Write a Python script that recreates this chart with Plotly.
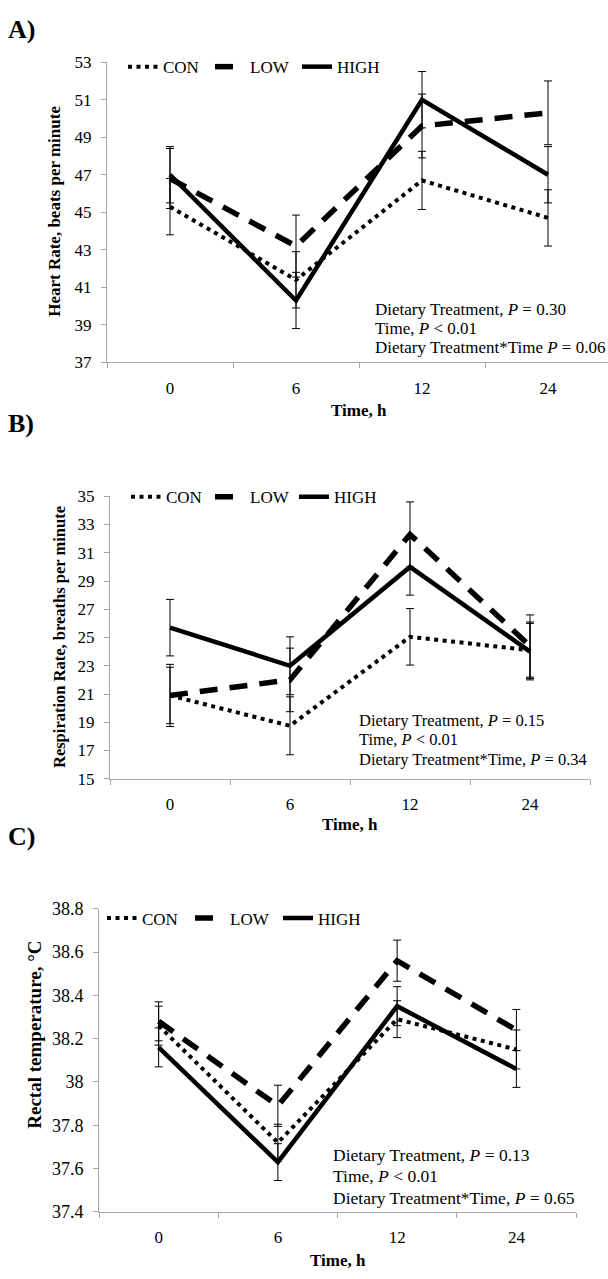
import plotly.graph_objects as go

# Sampling times (h) and their plotting positions
times = ["0", "6", "12", "24"]
pos = [0, 1, 2, 3]
groups = ["CON", "LOW", "HIGH"]

# A) Heart rate, beats per minute (means and SE)
hr_con = [45.3, 41.4, 46.7, 44.7]
hr_low = [46.8, 43.2, 49.6, 50.3]
hr_high = [47.0, 40.3, 51.0, 47.0]
hr_con_se = [1.5, 1.5, 1.55, 1.5]
hr_low_se = [1.6, 1.65, 1.7, 1.7]
hr_high_se = [1.5, 1.5, 1.5, 1.5]

# B) Respiration rate, breaths per minute
rr_con = [20.9, 18.75, 25.05, 24.1]
rr_low = [20.9, 22.0, 32.3, 24.4]
rr_high = [25.7, 23.0, 30.0, 24.0]
rr_con_se = [2.2, 2.05, 2.0, 2.0]
rr_low_se = [2.0, 2.25, 2.3, 2.2]
rr_high_se = [2.0, 2.05, 2.0, 2.0]

# C) Rectal temperature, degC
rt_con = [38.26, 37.72, 38.29, 38.15]
rt_low = [38.28, 37.89, 38.56, 38.24]
rt_high = [38.16, 37.63, 38.35, 38.06]
rt_con_se = [0.09, 0.085, 0.085, 0.09]
rt_low_se = [0.09, 0.095, 0.095, 0.095]
rt_high_se = [0.09, 0.085, 0.09, 0.085]

# Y tick labels
hr_ticks = [37, 39, 41, 43, 45, 47, 49, 51, 53]
rr_ticks = [15, 17, 19, 21, 23, 25, 27, 29, 31, 33, 35]
rt_ticks = [37.4, 37.6, 37.8, 38.0, 38.2, 38.4, 38.6, 38.8]
rt_tick_text = ["37.4", "37.6", "37.8", "38", "38.2", "38.4", "38.6", "38.8"]

# Statistics text per panel
stats_a = ["Dietary Treatment, <i>P</i> = 0.30", "Time, <i>P</i> &lt; 0.01",
           "Dietary Treatment*Time <i>P</i> = 0.06"]
stats_b = ["Dietary Treatment, <i>P</i> = 0.15", "Time, <i>P</i> &lt; 0.01",
           "Dietary Treatment*Time, <i>P</i> = 0.34"]
stats_c = ["Dietary Treatment, <i>P</i> = 0.13", "Time, <i>P</i> &lt; 0.01",
           "Dietary Treatment*Time, <i>P</i> = 0.65"]

W, H = 608, 1279
FONT = "Liberation Serif"
AXIS_GRAY = "#a6a6a6"


def fx(p):
    return p / W


def fy(p):
    return 1 - p / H


styles = {
    "CON": dict(color="black", width=4, dash="4px,4.5px"),
    "LOW": dict(color="black", width=5.5, dash="18px,12px"),
    "HIGH": dict(color="black", width=4.5),
}

# Panel geometry in pixels
panels = [
    dict(key="", legend="legend", left=107, right=608, cat=126, top=53, bottom=358,
         yr=[37, 53], ticks=hr_ticks, ticktext=[str(t) for t in hr_ticks], tick_size=17,
         series=[(hr_con, hr_con_se), (hr_low, hr_low_se), (hr_high, hr_high_se)],
         ytitle="Heart Rate, beats per minute", ytitle_size=17, ytx=55, yty=205,
         xtitle_y=407, label="A)", label_y=20,
         stats=stats_a, stats_x=373, stats_y=[304, 323.5, 343], stats_size=17,
         leg_x=123, leg_y=58, leg_w=42),
    dict(key="2", legend="legend2", left=110, right=590, cat=120, top=494, bottom=781,
         yr=[15, 35], ticks=rr_ticks, ticktext=[str(t) for t in rr_ticks], tick_size=17,
         series=[(rr_con, rr_con_se), (rr_low, rr_low_se), (rr_high, rr_high_se)],
         ytitle="Respiration Rate, breaths per minute", ytitle_size=16.5, ytx=59, yty=637,
         xtitle_y=827, label="B)", label_y=420,
         stats=stats_b, stats_x=357, stats_y=[722, 741, 761], stats_size=16.5,
         leg_x=126, leg_y=495, leg_w=39),
    dict(key="3", legend="legend3", left=99, right=576, cat=119.25, top=913, bottom=1221,
         yr=[37.4, 38.8], ticks=rt_ticks, ticktext=rt_tick_text, tick_size=18,
         series=[(rt_con, rt_con_se), (rt_low, rt_low_se), (rt_high, rt_high_se)],
         ytitle="Rectal temperature, °C", ytitle_size=19, ytx=35, yty=1041,
         xtitle_y=1270, label="C)", label_y=840,
         stats=stats_c, stats_x=331, stats_y=[1163, 1185, 1207], stats_size=17.5,
         leg_x=102, leg_y=923, leg_w=43),
]

fig = go.Figure()
annotations = []
layout = {}

for p in panels:
    xa = "x" + p["key"]
    ya = "y" + p["key"]
    for name, (vals, se) in zip(groups, p["series"]):
        fig.add_trace(go.Scatter(
            x=pos, y=vals, mode="lines", name=name,
            line=styles[name],
            error_y=dict(type="data", array=se, visible=True,
                         color="black", thickness=1, width=4),
            xaxis=xa, yaxis=ya, legend=p["legend"],
        ))

    x_hi = -0.5 + (p["right"] - p["left"]) / p["cat"]
    layout["xaxis" + p["key"]] = dict(
        domain=[fx(p["left"]), fx(p["right"])], anchor=ya,
        range=[-0.5, x_hi], showgrid=False, zeroline=False,
        showline=True, linecolor=AXIS_GRAY, linewidth=1,
        tickvals=pos, ticktext=times, ticks="",
        ticklabelstandoff=10,
        tickfont=dict(family=FONT, size=17, color="black"),
        minor=dict(tickvals=[-0.5, 0.5, 1.5, 2.5, 3.5], ticks="outside",
                   ticklen=5, tickcolor=AXIS_GRAY, tickwidth=1, showgrid=False),
    )
    layout["yaxis" + p["key"]] = dict(
        domain=[fy(p["bottom"]), fy(p["top"])], anchor=xa,
        range=p["yr"], showgrid=False, zeroline=False,
        showline=True, linecolor=AXIS_GRAY, linewidth=1,
        tickvals=p["ticks"], ticktext=p["ticktext"],
        ticks="outside", ticklen=5, tickcolor=AXIS_GRAY, tickwidth=1,
        ticklabelstandoff=6,
        tickfont=dict(family=FONT, size=p["tick_size"], color="black"),
    )
    layout[p["legend"]] = dict(
        orientation="h", x=fx(p["leg_x"]), y=fy(p["leg_y"]),
        xanchor="left", yanchor="middle", bgcolor="rgba(0,0,0,0)",
        font=dict(family=FONT, size=17, color="black"),
        itemwidth=30, tracegroupgap=0,
        entrywidth=p["leg_w"], entrywidthmode="pixels",
    )

    # Panel letter
    annotations.append(dict(
        text="<b>" + p["label"] + "</b>", xref="paper", yref="paper",
        x=fx(6), y=fy(p["label_y"]), xanchor="left", yanchor="middle",
        showarrow=False, font=dict(family=FONT, size=26, color="black")))
    # Axis titles
    annotations.append(dict(
        text="<b>" + p["ytitle"] + "</b>", xref="paper", yref="paper",
        x=fx(p["ytx"]), y=fy(p["yty"]), xanchor="center", yanchor="middle",
        textangle=-90, showarrow=False,
        font=dict(family=FONT, size=p["ytitle_size"], color="black")))
    annotations.append(dict(
        text="<b>Time, h</b>", xref="paper", yref="paper",
        x=fx((p["left"] + p["left"] + 4 * p["cat"]) / 2), y=fy(p["xtitle_y"]),
        xanchor="center", yanchor="middle", showarrow=False,
        font=dict(family=FONT, size=17, color="black")))
    # Statistics block
    for line, yy in zip(p["stats"], p["stats_y"]):
        annotations.append(dict(
            text=line, xref="paper", yref="paper",
            x=fx(p["stats_x"]), y=fy(yy), xanchor="left", yanchor="middle",
            showarrow=False,
            font=dict(family=FONT, size=p["stats_size"], color="black")))

fig.update_layout(
    width=W, height=H,
    margin=dict(l=0, r=0, t=0, b=0),
    paper_bgcolor="white", plot_bgcolor="white",
    showlegend=True,
    annotations=annotations,
    font=dict(family=FONT, color="black"),
    **layout,
)

fig.write_html("out.html")
